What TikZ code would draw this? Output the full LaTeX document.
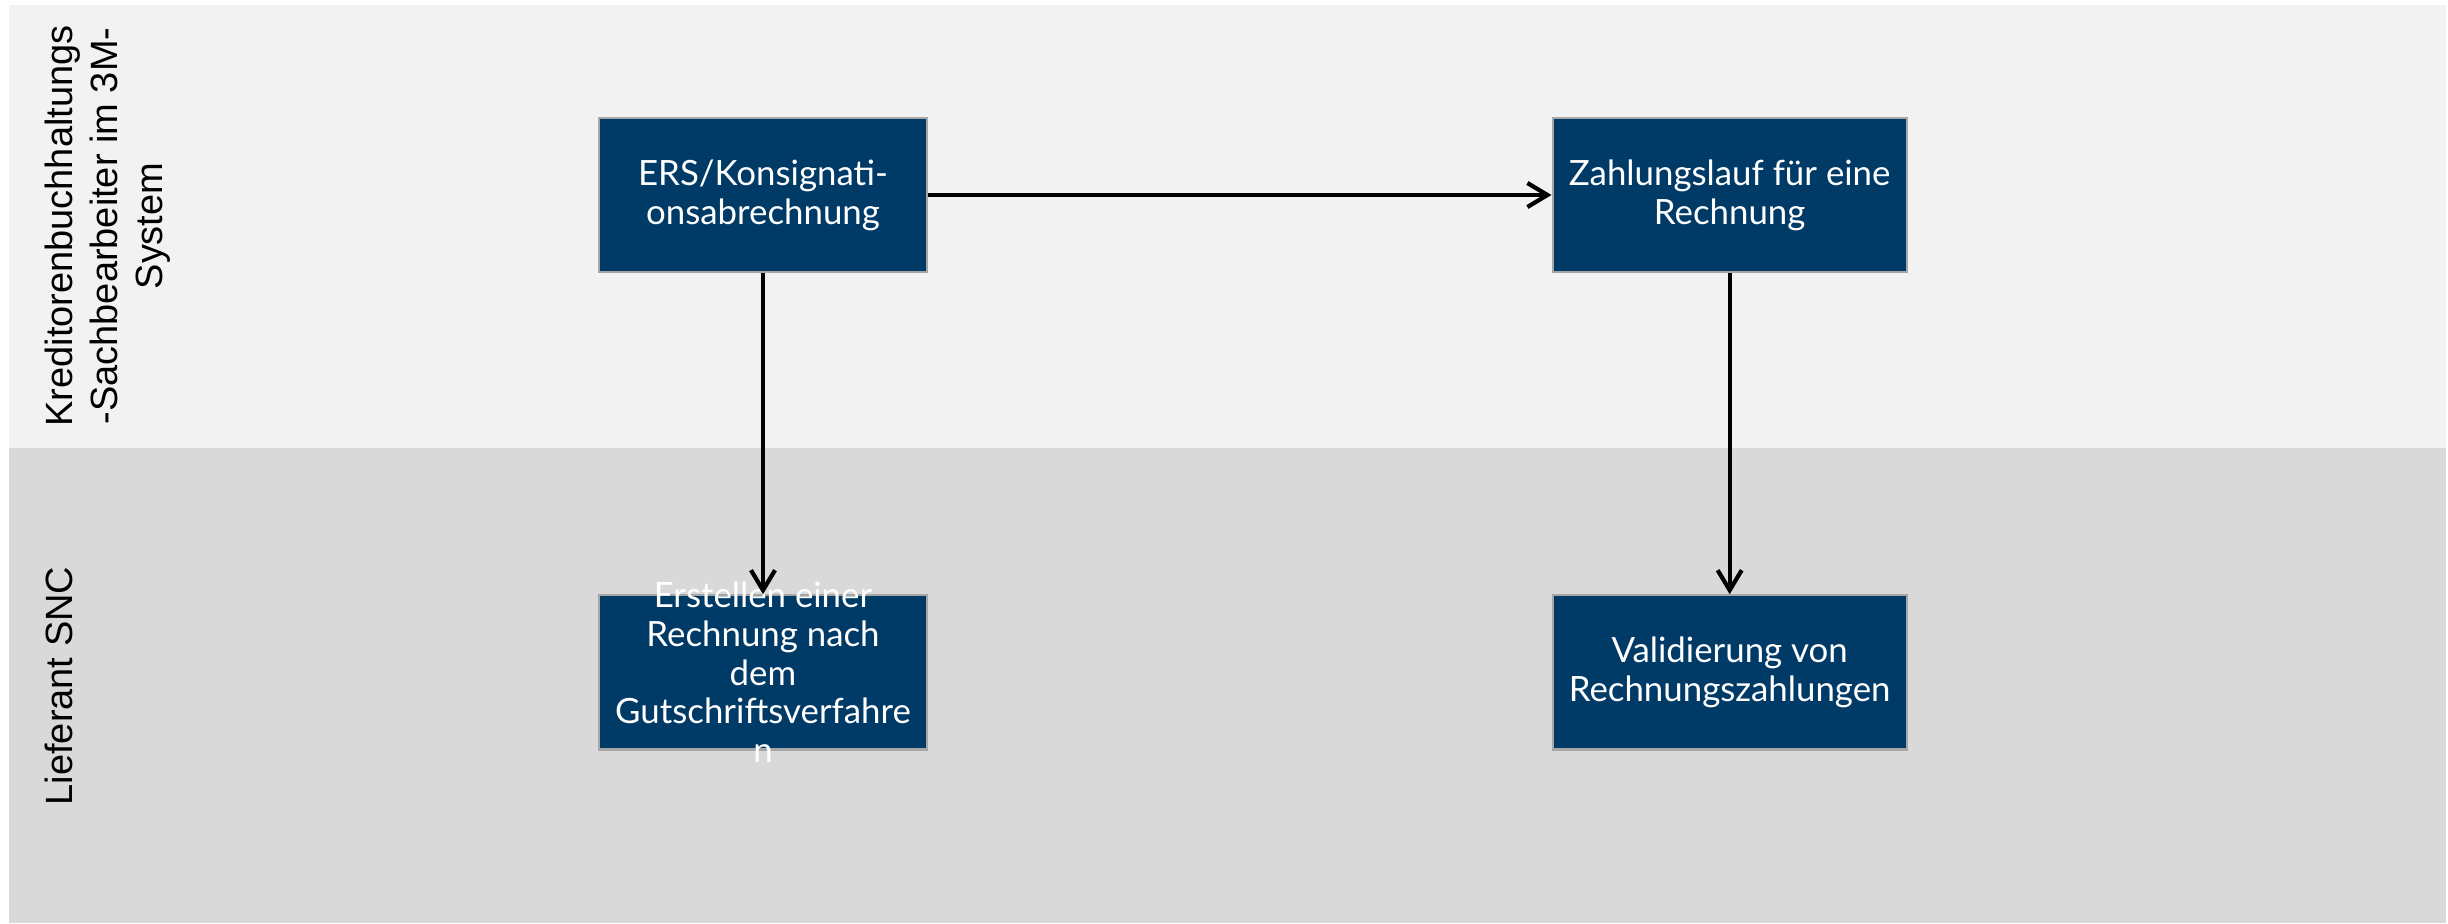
\documentclass[tikz,border=0pt]{standalone}
\usepackage{fontspec}
\setmainfont{Lato}
\newfontfamily\lanefont{Liberation Sans}
\usetikzlibrary{positioning, arrows.meta}
\definecolor{boxblue}{RGB}{0,58,102}
\definecolor{laneA}{RGB}{242,242,242}
\definecolor{laneB}{RGB}{217,217,217}
\definecolor{boxedge}{RGB}{166,166,166}
\tikzstyle{process} = [rectangle, minimum width=3.28cm, minimum height=1.54cm, inner sep=0pt, text centered, draw=boxedge, line width=0.6pt, fill=boxblue, text=white, font=\fontsize{9.9}{11}\selectfont, align=center]
\tikzstyle{boxtext} = [inner sep=0pt, text=white, font=\fontsize{9.9}{11}\selectfont, align=center]
\tikzstyle{arrow} = [line width=1.2pt, -{Straight Barb[length=2mm,width=2.4mm]}]
\tikzstyle{lanelabel} = [rotate=90, anchor=north, inner sep=0pt, align=center, font=\lanefont\fontsize{10.8}{12.8}\selectfont]

\begin{document}
\begin{tikzpicture}[x=0.01cm, y=-0.01cm]
\useasboundingbox (0,0) rectangle (2448,923);
% swimlanes
\fill[laneA] (9,5) rectangle (2446,448);
\fill[laneB] (9,448) rectangle (2446,923);
\node (laneKred) [lanelabel] at (44,226) {Kreditorenbuchhaltungs\\-Sachbearbeiter im 3M-\\System};
\node (laneLief) [lanelabel] at (44,686) {Lieferant SNC};

% process steps
\node (ERS) [process] at (763,195) {ERS/Konsignati-\\onsabrechnung};
\node (Zahlung) [process, minimum width=3.54cm, right=6.23cm of ERS] {Zahlungslauf für eine\\Rechnung};
\node (Erstellen) [process, below=3.21cm of ERS] {};
\node (ErstellenText) [boxtext] at (Erstellen) {Erstellen einer\\Rechnung nach\\dem\\Gutschriftsverfahre\\n};
\node (Validierung) [process, minimum width=3.54cm, below=3.21cm of Zahlung] {Validierung von\\Rechnungszahlungen};

\draw [arrow] (ERS) -- (Zahlung);
\draw [arrow] (ERS) -- (Erstellen);
\draw [arrow] (Zahlung) -- (Validierung);
\end{tikzpicture}
\end{document}
